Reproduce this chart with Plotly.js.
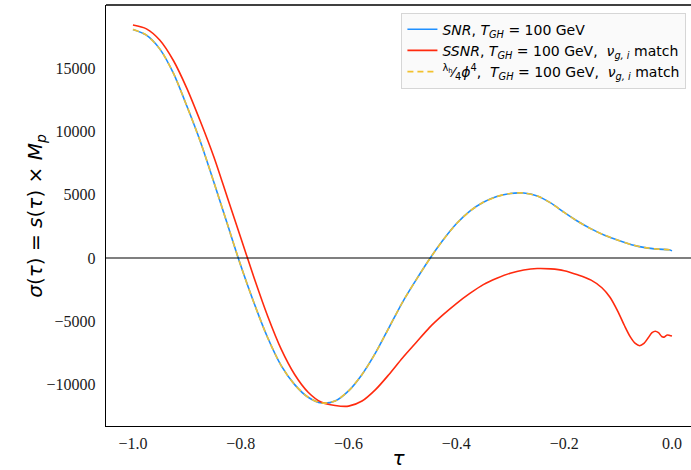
<!DOCTYPE html>
<html>
<head>
<meta charset="utf-8">
<script src="https://cdn.plot.ly/plotly-3.0.1.min.js"></script>
<style>html,body{margin:0;padding:0;background:#fff;}#chart{width:691px;height:470px;}</style>
</head>
<body>
<div id="chart"></div>
<script>
// tau values and sigma values
const tauSNR = [-1.0, -0.975, -0.95, -0.925, -0.9, -0.875, -0.85, -0.825, -0.8, -0.775, -0.75, -0.725, -0.7, -0.675, -0.65, -0.625, -0.6, -0.575, -0.55, -0.525, -0.5, -0.475, -0.45, -0.425, -0.4, -0.375, -0.35, -0.325, -0.3, -0.275, -0.25, -0.225, -0.2, -0.175, -0.15, -0.125, -0.1, -0.075, -0.05, -0.025, -0.005, 0.0];
const sigmaSNR = [18050, 17600, 16500, 14600, 12000, 9200, 6000, 2700, -600, -3600, -6300, -8500, -10000, -11000, -11450, -11300, -10500, -9200, -7500, -5500, -3500, -1750, -100, 1400, 2700, 3700, 4400, 4850, 5100, 5130, 4900, 4350, 3600, 2900, 2300, 1800, 1400, 1050, 820, 700, 650, 560];

const tauSSNR = [-1.0, -0.975, -0.95, -0.925, -0.9, -0.875, -0.85, -0.825, -0.8, -0.775, -0.75, -0.725, -0.7, -0.675, -0.65, -0.625, -0.6, -0.575, -0.55, -0.525, -0.5, -0.475, -0.45, -0.425, -0.4, -0.375, -0.35, -0.325, -0.3, -0.275, -0.25, -0.225, -0.2, -0.175, -0.15, -0.13, -0.115, -0.1, -0.088, -0.077, -0.068, -0.06, -0.052, -0.044, -0.037, -0.031, -0.025, -0.019, -0.015, -0.009, -0.004, 0.0];
const sigmaSSNR = [18400, 18100, 17200, 15600, 13400, 10800, 8000, 4800, 1600, -1600, -4600, -7200, -9200, -10600, -11400, -11650, -11700, -11300, -10400, -9200, -7900, -6700, -5500, -4500, -3600, -2800, -2100, -1600, -1200, -950, -830, -860, -1000, -1330, -1750, -2350, -3100, -4250, -5350, -6250, -6750, -6930, -6750, -6300, -5900, -5780, -5900, -6200, -6250, -6080, -6120, -6160];

const tauPhi4 = tauSNR;
const sigmaPhi4 = sigmaSNR;

const names = [
  '<i>SNR</i>, <i>T</i><sub><i>GH</i></sub> = 100 GeV',
  '<i>SSNR</i>, <i>T</i><sub><i>GH</i></sub> = 100 GeV,  <i>ν</i><sub><i>g, i</i></sub> match',
  '<sup>λ<sub>h</sub></sup>⁄<sub>4</sub><i>ϕ</i><sup>4</sup>,  <i>T</i><sub><i>GH</i></sub> = 100 GeV,  <i>ν</i><sub><i>g, i</i></sub> match'
];

const traces = [
  {x: tauSNR, y: sigmaSNR, name: names[0], mode: 'lines', line: {color: '#1E8FFF', width: 1.6, shape: 'spline', smoothing: 0.8}},
  {x: tauSSNR, y: sigmaSSNR, name: names[1], mode: 'lines', line: {color: '#FF2A0E', width: 1.6, shape: 'spline', smoothing: 0.8}},
  {x: tauPhi4, y: sigmaPhi4, name: names[2], mode: 'lines', line: {color: '#F2C12E', width: 1.6, dash: '6px,4px', shape: 'spline', smoothing: 0.8}}
];

const layout = {
  width: 691, height: 470,
  margin: {l: 106, r: 0, t: 5, b: 44},
  paper_bgcolor: '#ffffff', plot_bgcolor: '#ffffff',
  showlegend: true,
  legend: {
    x: 0.505, y: 0.982, xanchor: 'left', yanchor: 'top',
    bgcolor: 'rgba(249,249,249,0.9)', bordercolor: '#d6d6d6', borderwidth: 1,
    font: {family: 'DejaVu Sans', size: 14, color: '#000'},
    itemwidth: 30
  },
  xaxis: {
    range: [-1.05, 0.0353],
    tickvals: [-1.0, -0.8, -0.6, -0.4, -0.2, 0.0],
    ticktext: ['\u22121.0', '\u22120.8', '\u22120.6', '\u22120.4', '\u22120.2', '0.0'],
    showgrid: false, zeroline: false,
    showline: true, linecolor: '#000', linewidth: 1.3,
    ticks: '', ticklabelstandoff: 2,
    tickfont: {family: 'Liberation Serif', size: 16, color: '#1a1a1a'},
    title: {text: '<i>τ</i>', font: {family: 'DejaVu Sans', size: 20, color: '#000'}, standoff: 10}
  },
  yaxis: {
    range: [-13270, 19984],
    tickvals: [-10000, -5000, 0, 5000, 10000, 15000],
    ticktext: ['\u221210000', '\u22125000', '0', '5000', '10000', '15000'],
    showgrid: false, zeroline: false,
    showline: true, linecolor: '#000', linewidth: 1.3,
    ticks: '', ticklabelstandoff: 6,
    tickfont: {family: 'Liberation Serif', size: 16, color: '#1a1a1a'}
  },
  annotations: [
    {text: '<i>σ</i>(<i>τ</i>) = <i>s</i>(<i>τ</i>) × <i>M</i><sub><i>p</i></sub>', xref: 'paper', yref: 'paper',
     x: -0.121, y: 0.5, xanchor: 'center', yanchor: 'middle', textangle: -90, showarrow: false,
     font: {family: 'DejaVu Sans', size: 20, color: '#000'}}
  ],
  shapes: [
    {type: 'line', xref: 'paper', yref: 'y', x0: 0, x1: 1, y0: 0, y1: 0, line: {color: '#000', width: 1.1}},
    {type: 'line', xref: 'paper', yref: 'paper', x0: 0, x1: 1, y0: 1, y1: 1, line: {color: '#000', width: 1.3}}
  ]
};

Plotly.newPlot('chart', traces, layout, {displayModeBar: false, staticPlot: true});
</script>
</body>
</html>
